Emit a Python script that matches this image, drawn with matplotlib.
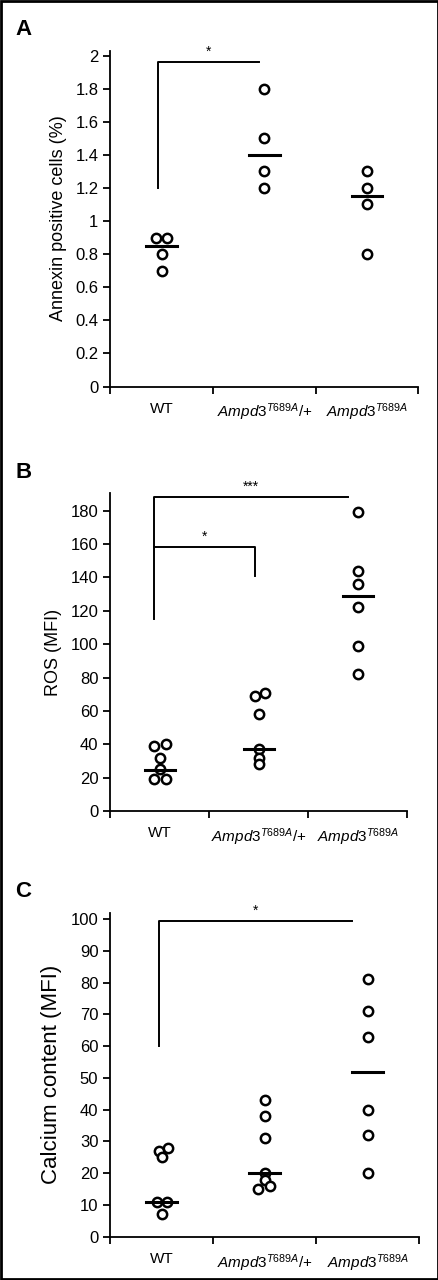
import matplotlib
matplotlib.use('Agg')
import matplotlib.pyplot as plt
from matplotlib.patches import Rectangle

plt.rcParams['font.family'] = ['Liberation Sans', 'DejaVu Sans']
plt.rcParams['mathtext.fontset'] = 'custom'
plt.rcParams['mathtext.rm'] = 'Liberation Sans'
plt.rcParams['mathtext.it'] = 'Liberation Sans:italic'

groups = ['WT', r'$\mathit{Ampd3}^{\mathit{T689A}}$/+', r'$\mathit{Ampd3}^{\mathit{T689A}}$']

# panel A: annexin positive cells (%)
a_vals = [[0.9, 0.9, 0.8, 0.7], [1.8, 1.5, 1.3, 1.2], [1.3, 1.2, 1.1, 0.8]]
a_offs = [[-0.05, 0.05, 0, 0], [0, 0, 0, 0], [0, 0, 0, 0]]
a_means = [0.85, 1.4, 1.15]

# panel B: ROS (MFI)
b_vals = [[39, 40, 32, 25, 19, 19], [69, 71, 58, 37, 32, 28], [179, 144, 136, 122, 99, 82]]
b_offs = [[-0.06, 0.06, 0, 0, -0.06, 0.06], [-0.04, 0.06, 0, 0, 0, 0], [0] * 6]
b_means = [24.5, 37, 129]

# panel C: calcium content (MFI)
c_vals = [[27, 28, 25, 11, 11, 7], [43, 38, 31, 20, 18, 15, 16], [81, 71, 63, 40, 32, 20]]
c_offs = [[-0.03, 0.06, 0.0, -0.05, 0.05, 0], [0, 0, 0, 0, 0, -0.07, 0.05], [0] * 6]
c_means = [11, 20, 52]

fig = plt.figure(figsize=(4.39, 12.8), dpi=100)
fig.patches.append(Rectangle((0.002, 0.001), 0.996, 0.998, transform=fig.transFigure,
                             fill=False, lw=2, ec='black'))


def panel(pos, vals, offs, means, ylim, ticks, ticklabels, ylabel, yfs, letter, brackets):
    ax = fig.add_axes(pos)
    for i, (v, o) in enumerate(zip(vals, offs)):
        ax.scatter([i + 0.5 + d for d in o], v, s=45, facecolors='white',
                   edgecolors='black', linewidths=1.8, zorder=3)
        ax.plot([i + 0.35, i + 0.65], [means[i]] * 2, color='black', lw=2.2, zorder=4)
    for x0, y0, y1, x1, y2, txt in brackets:
        ax.plot([x0, x0, x1, x1], [y0, y1, y1, y2], color='black', lw=1.4, clip_on=False)
        ax.text((x0 + x1) / 2, y1 + ylim * 0.01, txt, ha='center', va='bottom', fontsize=10)
    ax.set_xlim(0, 3)
    ax.set_ylim(0, ylim)
    ax.set_xticks([0, 1, 2, 3])
    ax.set_xticklabels([])
    ax.set_xticks([0.5, 1.5, 2.5], minor=True)
    ax.set_xticklabels(groups, minor=True, fontsize=11)
    ax.tick_params(axis='x', which='minor', length=0, pad=11)
    ax.tick_params(axis='x', which='major', length=5, width=1.3)
    ax.set_yticks(ticks)
    ax.set_yticklabels(ticklabels, fontsize=12)
    ax.tick_params(axis='y', length=5, width=1.3)
    for s in ['top', 'right']:
        ax.spines[s].set_visible(False)
    for s in ['left', 'bottom']:
        ax.spines[s].set_linewidth(1.3)
    ax.set_ylabel(ylabel, fontsize=yfs, labelpad=6)
    fig.text(0.035, pos[1] + pos[3] + 0.012, letter, fontsize=16, fontweight='bold')
    return ax


panel([0.251, 0.698, 0.702, 0.2625], a_vals, a_offs, a_means, 2.03,
      [0, 0.2, 0.4, 0.6, 0.8, 1, 1.2, 1.4, 1.6, 1.8, 2],
      ['0', '0.2', '0.4', '0.6', '0.8', '1', '1.2', '1.4', '1.6', '1.8', '2'],
      'Annexin positive cells (%)', 13, 'A',
      [(0.47, 1.2, 1.96, 1.45, 1.96, '*')])

panel([0.251, 0.3664, 0.677, 0.2484], b_vals, b_offs, b_means, 190.6,
      list(range(0, 181, 20)), [str(t) for t in range(0, 181, 20)],
      'ROS (MFI)', 13, 'B',
      [(0.44, 115, 188, 2.4, 188, '***'), (0.44, 158, 158, 1.46, 141, '*')])

panel([0.251, 0.0338, 0.704, 0.2532], c_vals, c_offs, c_means, 102,
      list(range(0, 101, 10)), [str(t) for t in range(0, 101, 10)],
      'Calcium content (MFI)', 16, 'C',
      [(0.47, 60, 99.4, 2.35, 99.4, '*')])

fig.savefig('out.png', dpi=100)
